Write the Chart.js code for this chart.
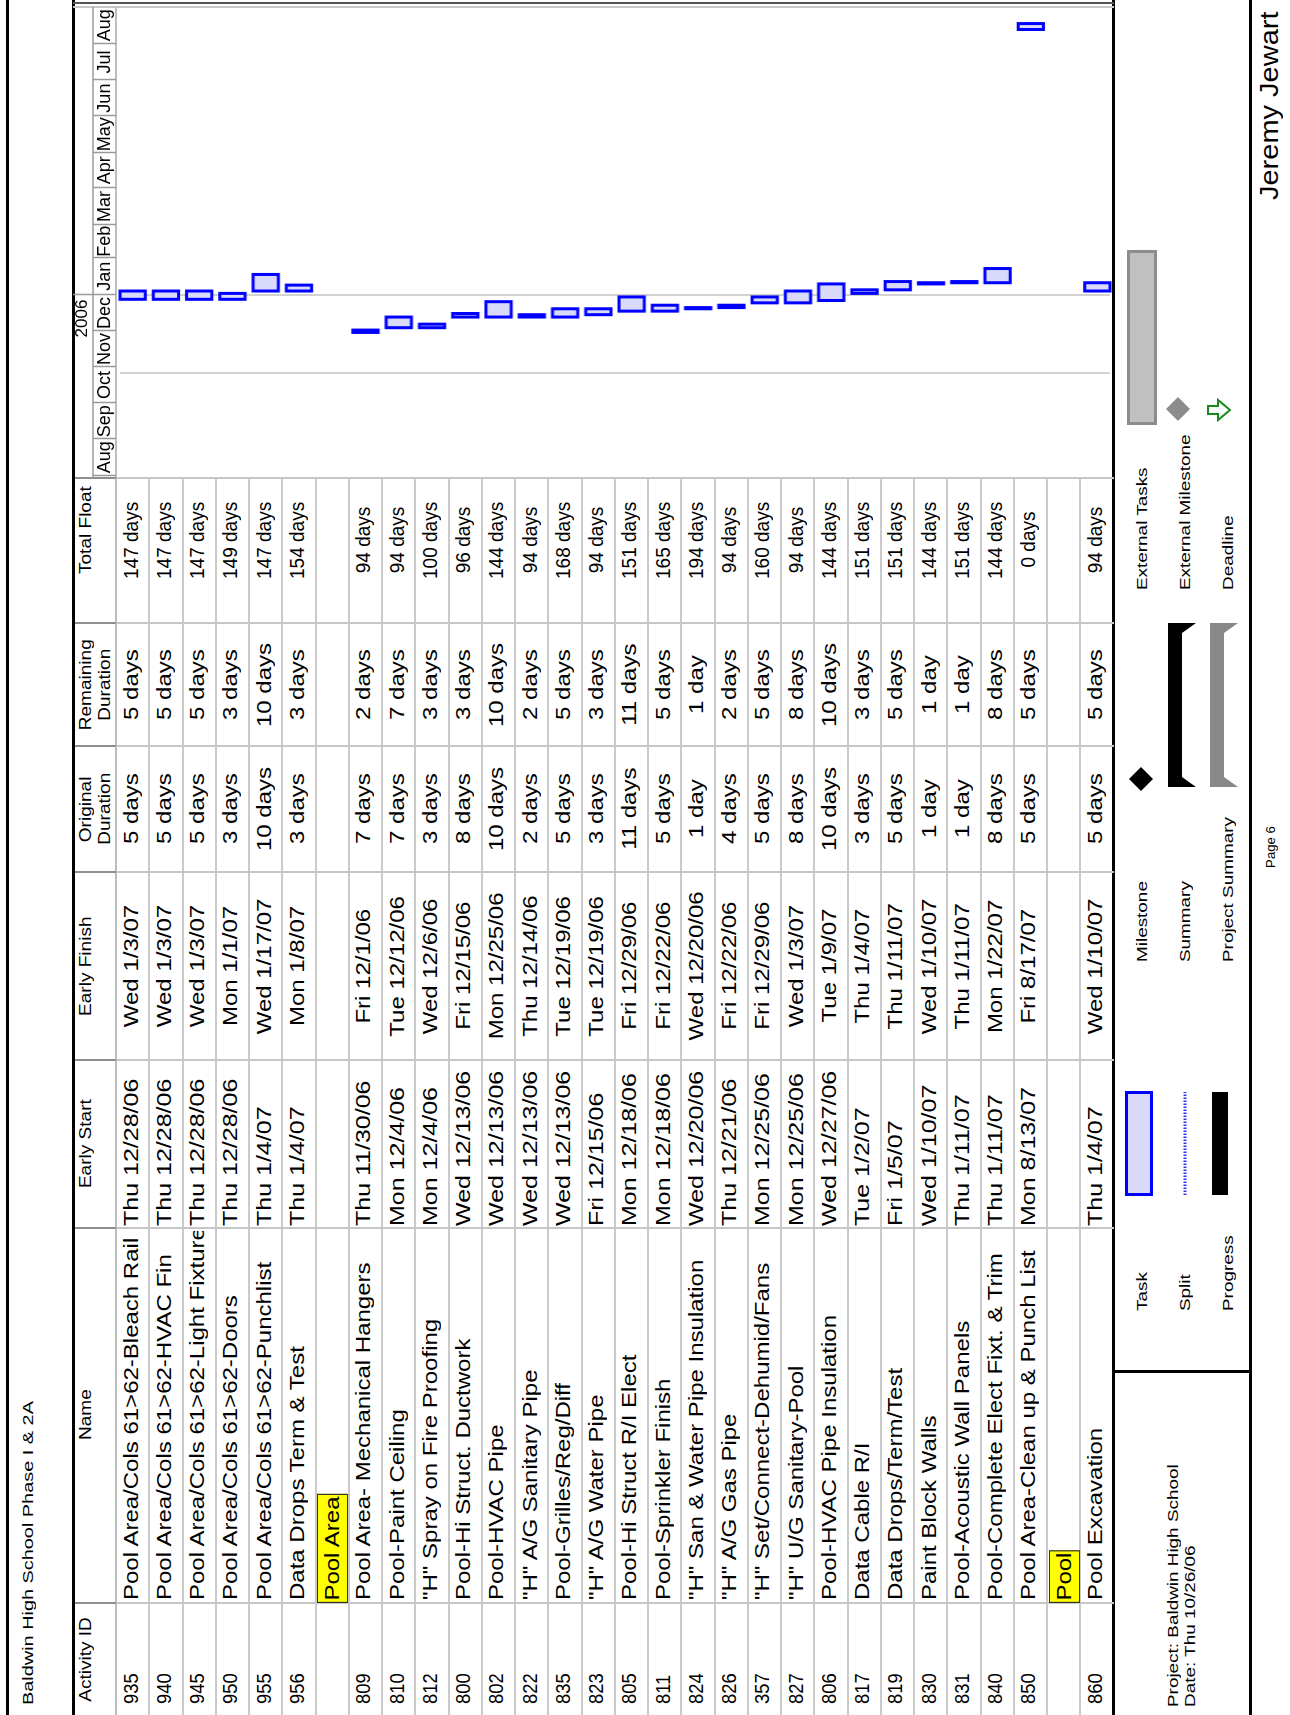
<!DOCTYPE html>
<html><head><meta charset="utf-8">
<script src="https://cdn.jsdelivr.net/npm/chart.js@4.4.1/dist/chart.umd.min.js"></script>
<style>
html,body{margin:0;padding:0;background:#fff;overflow:hidden;width:1290px;height:1715px;}
#page{position:absolute;left:0;top:0;width:1715px;height:1290px;transform-origin:0 0;transform:translate(0px,1715px) rotate(-90deg);font-family:"Liberation Sans",Arial,sans-serif;color:#000;background:#fff;}
.ln{position:absolute;}
.tx{position:absolute;white-space:nowrap;overflow:visible;}
.tx>span{display:inline-block;}
#gantt{position:absolute;}
</style></head><body><div id="page"></div>
<script>
// ---------------- data ----------------
const activityIds = ['935','940','945','950','955','956','','809','810','812','800','802','822','835','823','805','811','824','826','357','827','806','817','819','830','831','840','850','','860'];
const taskNames = ['Pool Area/Cols 61>62-Bleach Rail','Pool Area/Cols 61>62-HVAC Fin','Pool Area/Cols 61>62-Light Fixture','Pool Area/Cols 61>62-Doors','Pool Area/Cols 61>62-Punchlist','Data Drops Term & Test','Pool Area','Pool Area- Mechanical Hangers','Pool-Paint Ceiling','"H" Spray on Fire Proofing','Pool-Hi Struct. Ductwork','Pool-HVAC Pipe','"H" A/G Sanitary Pipe','Pool-Grilles/Reg/Diff','"H" A/G Water Pipe','Pool-Hi Struct R/I Elect','Pool-Sprinkler Finish','"H" San & Water Pipe Insulation','"H" A/G Gas Pipe','"H" Set/Connect-Dehumid/Fans','"H" U/G Sanitary-Pool','Pool-HVAC Pipe Insulation','Data Cable R/I','Data Drops/Term/Test','Paint Block Walls','Pool-Acoustic Wall Panels','Pool-Complete Elect Fixt. & Trim','Pool Area-Clean up & Punch List','Pool','Pool Excavation'];
const groupRows = ['Pool Area','Pool'];
const earlyStart = ['Thu 12/28/06','Thu 12/28/06','Thu 12/28/06','Thu 12/28/06','Thu 1/4/07','Thu 1/4/07','','Thu 11/30/06','Mon 12/4/06','Mon 12/4/06','Wed 12/13/06','Wed 12/13/06','Wed 12/13/06','Wed 12/13/06','Fri 12/15/06','Mon 12/18/06','Mon 12/18/06','Wed 12/20/06','Thu 12/21/06','Mon 12/25/06','Mon 12/25/06','Wed 12/27/06','Tue 1/2/07','Fri 1/5/07','Wed 1/10/07','Thu 1/11/07','Thu 1/11/07','Mon 8/13/07','','Thu 1/4/07'];
const earlyFinish = ['Wed 1/3/07','Wed 1/3/07','Wed 1/3/07','Mon 1/1/07','Wed 1/17/07','Mon 1/8/07','','Fri 12/1/06','Tue 12/12/06','Wed 12/6/06','Fri 12/15/06','Mon 12/25/06','Thu 12/14/06','Tue 12/19/06','Tue 12/19/06','Fri 12/29/06','Fri 12/22/06','Wed 12/20/06','Fri 12/22/06','Fri 12/29/06','Wed 1/3/07','Tue 1/9/07','Thu 1/4/07','Thu 1/11/07','Wed 1/10/07','Thu 1/11/07','Mon 1/22/07','Fri 8/17/07','','Wed 1/10/07'];
const origDuration = ['5 days','5 days','5 days','3 days','10 days','3 days','','7 days','7 days','3 days','8 days','10 days','2 days','5 days','3 days','11 days','5 days','1 day','4 days','5 days','8 days','10 days','3 days','5 days','1 day','1 day','8 days','5 days','','5 days'];
const remDuration = ['5 days','5 days','5 days','3 days','10 days','3 days','','2 days','7 days','3 days','3 days','10 days','2 days','5 days','3 days','11 days','5 days','1 day','2 days','5 days','8 days','10 days','3 days','5 days','1 day','1 day','8 days','5 days','','5 days'];
const totalFloat = ['147 days','147 days','147 days','149 days','147 days','154 days','','94 days','94 days','100 days','96 days','144 days','94 days','168 days','94 days','151 days','165 days','194 days','94 days','160 days','94 days','144 days','151 days','151 days','144 days','151 days','144 days','0 days','','94 days'];
const headerLabels = [['Activity ID'],['Name'],['Early Start'],['Early Finish'],['Original','Duration'],['Remaining','Duration'],['Total Float']];
const monthLabels = ['Aug','Sep','Oct','Nov','Dec','Jan','Feb','Mar','Apr','May','Jun','Jul','Aug'];
const firstMonth = '8/1/06';
const yearLabels = ['2006'];
const yearEnds = ['1/1/07'];
const timelineStart = '7/30/06';
const timelineEnd = '9/1/07';
const statusDate = '10/27/06';
const legendLeft = [['Task','Split','Progress'],['Milestone','Summary','Project Summary'],['External Tasks','External Milestone','Deadline']];
const titleText = 'Baldwin High School Phase I & 2A';
const projectText = ['Project: Baldwin High School','Date: Thu 10/26/06'];
const pageText = 'Page 6';
const authorText = 'Jeremy Jewart';

// ---------------- helpers ----------------
const DAY = 86400000, T0 = Date.UTC(2007,0,1);
function dayOf(s){ const m = s.match(/(\d+)\/(\d+)\/(\d+)/); return (Date.UTC(2000 + +m[3], +m[1]-1, +m[2]) - T0)/DAY; }
const page = document.getElementById('page');
function line(u,v,w,h,color){ const d=document.createElement('div'); d.className='ln'; d.style.cssText=`left:${u}px;top:${v}px;width:${w}px;height:${h}px;background:${color}`; page.appendChild(d); return d; }
function text(str,o){
  const d=document.createElement('div'); d.className='tx';
  const lh=o.fs*1.2;
  d.style.left=o.u+'px'; d.style.top=(o.v - (lh-1.117*o.fs)/2 - 0.905*o.fs)+'px';
  d.style.fontSize=o.fs+'px'; d.style.lineHeight=lh+'px';
  if(o.w!==undefined){ d.style.width=o.w+'px'; d.style.textAlign=o.align||'left'; }
  if(o.clip){ d.style.overflow='hidden'; }
  const s=document.createElement('span'); s.textContent=str;
  const org = o.align==='center'?'50% 50%':(o.align==='right'?'100% 50%':'0 50%');
  s.style.transform=`scaleX(${o.sx||1})`; s.style.transformOrigin=org;
  if(o.style) Object.assign(s.style,o.style);
  d.appendChild(s); page.appendChild(d); return d;
}

// ---------------- geometry (original landscape orientation) ----------------
const colEdges=[0,112,487,655,843,969,1092,1237];
const TL_END=1708, HEAD_TOP=73, HEAD_BOT=116, ROW_H=33.25, NROWS=taskNames.length, TABLE_BOT=HEAD_BOT+ROW_H*NROWS;

// frame lines
line(0,6,1715,3,'#000');
line(0,72,1715,3,'#000');
line(0,1112,1715,3,'#000');
line(0,1249,1715,3,'#000');
line(342,1113,3,137,'#000');
line(1707,HEAD_TOP,2,TABLE_BOT-HEAD_TOP,'#c8c8c8');
line(1711,HEAD_TOP,2,TABLE_BOT-HEAD_TOP,'#555');
// header bottom
line(0,HEAD_BOT-1,TL_END,2,'#bdbdbd');
// row lines
for(let i=1;i<NROWS;i++){ line(0,Math.round(HEAD_BOT+ROW_H*i)-1,colEdges[7],2,'#cacaca'); }
// column lines
for(let c=1;c<colEdges.length;c++){
  line(colEdges[c]-1,HEAD_TOP+2,2,HEAD_BOT-HEAD_TOP-2,'#8e8e8e');
  line(colEdges[c]-1,HEAD_BOT,2,TABLE_BOT-HEAD_BOT,'#c6c6c6');
}

// title
text(titleText,{u:10,v:33,fs:14,sx:1.42});
// headers
const headCenters=[56,300,571,749,906,1030,1185];
headerLabels.forEach((lines,i)=>{
  lines.forEach((t,k)=>{ text(t,{u:headCenters[i]-100,w:200,align:'center',v:91+k*19,fs:16,sx:1.19}); });
});
// body
for(let r=0;r<NROWS;r++){
  const top=HEAD_BOT+ROW_H*r, base=top+21.5;
  if(groupRows.includes(taskNames[r])){
    const d=text(taskNames[r],{u:112,v:base,fs:20,sx:1.2,style:{background:'#ffff00',border:'1px solid #333',padding:'0 1px',height:'29px',lineHeight:'29px'}});
    d.style.top=(top+1.5)+'px'; d.style.lineHeight='29px';
    continue;
  }
  text(activityIds[r],{u:11,v:base,fs:20,sx:0.92});
  text(taskNames[r],{u:115,w:369,clip:true,v:base,fs:20,sx:1.2});
  text(earlyStart[r],{u:489,v:base,fs:20,sx:1.25});
  text(earlyFinish[r],{u:655,w:188,align:'center',v:base,fs:20,sx:1.2});
  text(origDuration[r],{u:843,w:126,align:'center',v:base,fs:20,sx:1.2});
  text(remDuration[r],{u:969,w:123,align:'center',v:base,fs:20,sx:1.2});
  text(totalFloat[r],{u:1113,w:124,align:'center',v:base,fs:20,sx:0.95});
}
// project box
projectText.forEach((t,k)=>text(t,{u:8,v:1178+k*17,fs:14,sx:1.35}));
// legend labels
const legU=[404,753,1125], legV=[1142,1185,1228];
legendLeft.forEach((col,c)=>col.forEach((t,k)=>text(t,{u:legU[c],v:legV[k]+5,fs:14,sx:1.35})));
// legend symbols (svg)
const svgNS='http://www.w3.org/2000/svg';
const svg=document.createElementNS(svgNS,'svg');
svg.setAttribute('width','1715'); svg.setAttribute('height','1290');
svg.style.cssText='position:absolute;left:0;top:0;pointer-events:none';
svg.innerHTML=`
<rect x="520.5" y="1126.5" width="102" height="25" fill="#d9d9f9" stroke="#0000ff" stroke-width="3"/>
<line x1="520" y1="1185" x2="623" y2="1185" stroke="#3030ff" stroke-width="3" stroke-dasharray="1.5,1.5"/>
<rect x="520" y="1212" width="103" height="16" fill="#000"/>
<polygon points="936,1129 948,1141 936,1153 924,1141" fill="#000"/>
<polygon points="928,1168 1092,1168 1092,1196 1082,1182 938,1182 928,1196" fill="#000"/>
<polygon points="928,1210 1092,1210 1092,1238 1082,1224 938,1224 928,1238" fill="#888"/>
<rect x="1291.5" y="1128.5" width="172" height="27" fill="#c0c0c0" stroke="#8c8c8c" stroke-width="3"/>
<polygon points="1306,1166 1318,1178 1306,1190 1294,1178" fill="#8c8c8c"/>
<polygon points="1301,1208 1309,1208 1309,1218 1315,1218 1305,1230 1295,1218 1301,1218" fill="#fff" stroke="#1a8a1a" stroke-width="2"/>
`;
page.appendChild(svg);
// page / author
text(pageText,{u:818,w:100,align:'center',v:1275,fs:12,sx:1.1});
text(authorText,{u:1404,w:300,align:'right',v:1278,fs:25,sx:1.16});

// ---------------- gantt chart ----------------
const spans = earlyStart.map((s,i)=> s ? [dayOf(s), dayOf(earlyFinish[i])+1] : null);
const xMin=dayOf(timelineStart), xMax=dayOf(timelineEnd);
const monthBounds=[]; { const f=firstMonth.match(/(\d+)\/(\d+)\/(\d+)/); for(let m=0;m<=monthLabels.length;m++){ monthBounds.push((Date.UTC(2000+ +f[3], +f[1]-1+m, 1)-T0)/DAY); } }
const monthMids=monthLabels.map((l,i)=>{ const a=Math.max(monthBounds[i],xMin), b=Math.min(monthBounds[i+1],xMax); return (a+b)/2; });
const yearBounds=yearEnds.map(dayOf);
const statusDay=dayOf(statusDate);

const cv=document.createElement('canvas'); cv.id='gantt';
const CW=TL_END-colEdges[7], CH=TABLE_BOT-HEAD_TOP;
cv.width=CW; cv.height=CH; cv.style.left=colEdges[7]+'px'; cv.style.top=HEAD_TOP+'px'; cv.style.width=CW+'px'; cv.style.height=CH+'px';
page.appendChild(cv);

const decor={id:'decor',
  beforeDatasetsDraw(chart){
    const {ctx,chartArea:a,scales:{x}}=chart;
    ctx.save();
    ctx.strokeStyle='#d2d2d2'; ctx.lineWidth=2;
    [...yearBounds,statusDay].forEach(d=>{ const p=Math.round(x.getPixelForValue(d)); ctx.beginPath(); ctx.moveTo(p,a.top+4); ctx.lineTo(p,a.bottom-4); ctx.stroke(); });
    const mid=a.top-23;
    ctx.strokeStyle='#9a9a9a'; ctx.lineWidth=1.5;
    ctx.beginPath(); ctx.moveTo(a.left,mid); ctx.lineTo(a.right,mid); ctx.stroke();
    monthBounds.forEach(d=>{ if(d<=xMin||d>=xMax) return; const p=Math.round(x.getPixelForValue(d))+0.5; ctx.beginPath(); ctx.moveTo(p,mid); ctx.lineTo(p,a.top); ctx.stroke(); });
    yearBounds.forEach(d=>{ const p=Math.round(x.getPixelForValue(d))+0.5; ctx.beginPath(); ctx.moveTo(p,0); ctx.lineTo(p,mid); ctx.stroke(); });
    ctx.restore();
  }
};

const pxLen=(c)=>{ const r=c.raw, x=c.chart.scales.x; if(!r||!x) return 0; return x.getPixelForValue(r[1])-x.getPixelForValue(r[0]); };
new Chart(cv,{
  type:'bar',
  data:{labels:taskNames.map((n,i)=>i+':'+n),
    datasets:[
      {label:'fill',order:1,data:spans,borderWidth:0,inflateAmount:-1.5,grouped:false,barPercentage:0.76,categoryPercentage:1,
        backgroundColor:(c)=> pxLen(c)>3.2?'#d9d9f9':'rgba(0,0,0,0)'},
      {label:'outline',order:2,data:spans,backgroundColor:'#0000ff',borderWidth:0,inflateAmount:1.5,grouped:false,barPercentage:0.76,categoryPercentage:1}
    ]},
  options:{indexAxis:'y',responsive:false,animation:false,events:[],
    layout:{padding:0},
    plugins:{legend:{display:false},tooltip:{enabled:false}},
    scales:{
      y:{type:'category',display:false,offset:true},
      x:{type:'linear',position:'top',min:xMin,max:xMax,weight:0,
        grid:{display:false,drawTicks:false},border:{display:false},
        afterBuildTicks:s=>{ s.ticks=monthMids.map(v=>({value:v})); },
        afterFit:s=>{ s.height=23; },
        ticks:{autoSkip:false,maxRotation:0,minRotation:0,padding:0,color:'#000',font:{family:'Liberation Sans',size:18},
          callback:(v,i)=>monthLabels[i]}},
      x2:{type:'linear',position:'top',min:xMin,max:xMax,weight:1,
        grid:{display:false,drawTicks:false},border:{display:false},
        afterBuildTicks:s=>{ s.ticks=yearBounds.map(v=>({value:v})); },
        afterFit:s=>{ s.height=20; },
        ticks:{autoSkip:false,maxRotation:0,minRotation:0,padding:0,align:'end',labelOffset:-5,color:'#000',font:{family:'Liberation Sans',size:17},
          callback:(v,i)=>yearLabels[i]}}
    }
  },
  plugins:[decor]
});
</script>
</body></html>
